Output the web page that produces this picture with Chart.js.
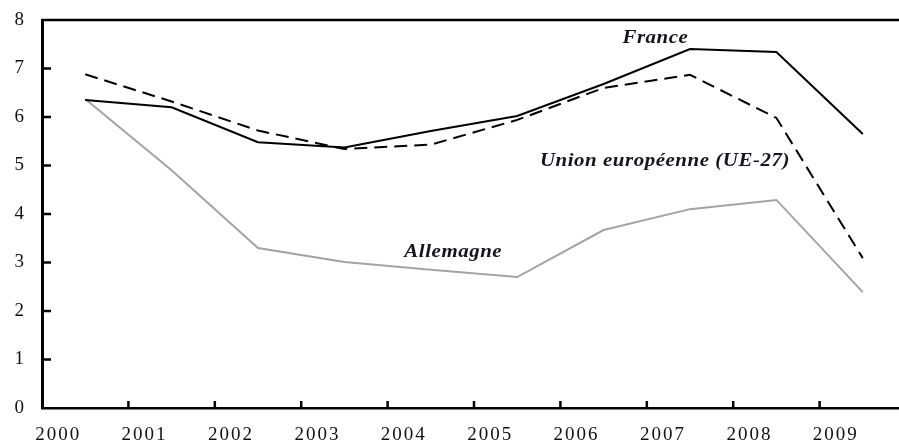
<!DOCTYPE html>
<html>
<head>
<meta charset="utf-8">
<script src="https://cdn.jsdelivr.net/npm/chart.js@4/dist/chart.umd.min.js"></script>
<style>
  html, body { margin: 0; padding: 0; background: #fff; width: 899px; height: 443px; overflow: hidden; }
  #wrap { position: relative; width: 910px; height: 443px; }
</style>
</head>
<body>
<div id="wrap"><canvas id="c"></canvas></div>
<script>
const years = ['2000','2001','2002','2003','2004','2005','2006','2007','2008','2009'];
const france = [6.35, 6.2, 5.48, 5.37, 5.71, 6.02, 6.68, 7.40, 7.34, 5.65];
const ue27 = [6.88, 6.32, 5.72, 5.34, 5.43, 5.94, 6.6, 6.87, 5.98, 3.09];
const allemagne = [6.37, 4.9, 3.3, 3.01, 2.85, 2.7, 3.67, 4.1, 4.29, 2.39];
const yTicks = [0, 1, 2, 3, 4, 5, 6, 7, 8];

const annotations = [
  { text: 'France', x: 6.6, y: 7.63 },
  { text: 'Union européenne (UE-27)', x: 6.71, y: 5.09 },
  { text: 'Allemagne', x: 4.26, y: 3.22 }
];

const serif = '"Liberation Serif", "Times New Roman", serif';

const decor = {
  id: 'decor',
  beforeDraw(chart) { chart.ctx.letterSpacing = '2px'; },
  afterDraw(chart) {
    const ctx = chart.ctx, xs = chart.scales.x, ys = chart.scales.y, a = chart.chartArea;
    ctx.save();
    ctx.strokeStyle = '#000';
    ctx.lineWidth = 2.5;
    ctx.beginPath(); ctx.moveTo(a.left, ys.getPixelForValue(8)); ctx.lineTo(a.right, ys.getPixelForValue(8)); ctx.stroke();
    yTicks.forEach(v => {
      if (v === 0 || v === 8) return;
      const p = ys.getPixelForValue(v);
      ctx.beginPath(); ctx.moveTo(a.left, p); ctx.lineTo(a.left + 9, p); ctx.stroke();
    });
    for (let i = 0; i < years.length - 1; i++) {
      const p = xs.getPixelForValue(i + 0.5);
      ctx.beginPath(); ctx.moveTo(p, a.bottom); ctx.lineTo(p, a.bottom - 7); ctx.stroke();
    }
    ctx.letterSpacing = '0.5px';
    ctx.fillStyle = '#151520';
    ctx.font = 'italic bold 19px ' + serif;
    ctx.textAlign = 'center';
    ctx.textBaseline = 'middle';
    annotations.forEach(t => {
      const px = xs.getPixelForValue(t.x), py = ys.getPixelForValue(t.y);
      ctx.save();
      ctx.translate(px, py);
      ctx.scale(1.1, 1);
      ctx.fillText(t.text, 0, 0);
      ctx.restore();
    });
    ctx.restore();
  }
};

new Chart(document.getElementById('c'), {
  type: 'line',
  data: {
    labels: years,
    datasets: [
      { label: 'France', data: france, borderColor: '#000', borderWidth: 2, pointRadius: 0, tension: 0, fill: false },
      { label: 'Union européenne (UE-27)', data: ue27, borderColor: '#000', borderWidth: 2, borderDash: [13, 7], pointRadius: 0, tension: 0, fill: false },
      { label: 'Allemagne', data: allemagne, borderColor: '#a3a3a3', borderWidth: 2, pointRadius: 0, tension: 0, fill: false }
    ]
  },
  options: {
    responsive: true,
    maintainAspectRatio: false,
    animation: false,
    layout: { padding: { top: 20, right: 4, left: 0, bottom: 0 } },
    plugins: { legend: { display: false }, tooltip: { enabled: false } },
    scales: {
      x: {
        offset: true,
        grid: { display: false, offset: true },
        border: { display: true, color: '#000', width: 2.5 },
        ticks: { color: '#111', font: { family: serif, size: 19 }, labelOffset: -27, padding: 8, maxRotation: 0, autoSkip: false },
        afterFit(s) { s.height = 35; s.paddingLeft = 0; s.paddingRight = 0; }
      },
      y: {
        min: 0, max: 8,
        grid: { display: false },
        border: { display: true, color: '#000', width: 3 },
        ticks: { stepSize: 1, color: '#111', font: { family: serif, size: 19 }, padding: 8 },
        afterFit(s) { s.width = 42; s.paddingTop = 0; s.paddingBottom = 0; }
      }
    }
  },
  plugins: [decor]
});
</script>
</body>
</html>
